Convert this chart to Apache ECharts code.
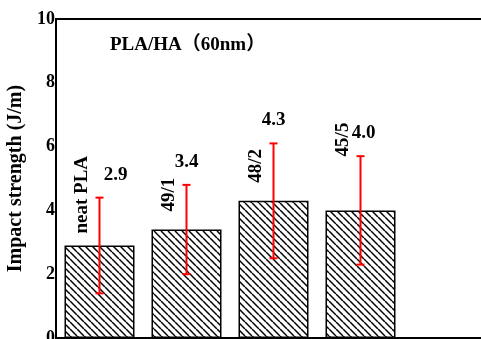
<!DOCTYPE html>
<html>
<head>
<meta charset="UTF-8">
<title>impact</title>
<script src="https://cdn.jsdelivr.net/npm/echarts@6/dist/echarts.min.js"></script>
<style>
  html, body { margin: 0; padding: 0; background: #fff; }
  #chart { width: 481px; height: 339px; }
</style>
</head>
<body>
<div id="chart"></div>
<script>
// data
var names = ['neat PLA', '49/1', '48/2', '45/5'];
var strength = [2.9, 3.4, 4.3, 4.0];
var errors = [1.5, 1.4, 1.8, 1.7];
var yTicks = [0, 2, 4, 6, 8, 10];

// label placement tweaks (px)
var nameLift = [12, 18, 18, 54];
var valueShift = [16, 0, 0, 3];

var serif = '"Liberation Serif", "Times New Roman", serif';

// hatch pattern for the bars
function hatch() {
  var s = 7;
  var c = document.createElement('canvas');
  c.width = s; c.height = s;
  var ctx = c.getContext('2d');
  ctx.fillStyle = '#fff';
  ctx.fillRect(0, 0, s, s);
  ctx.strokeStyle = '#000';
  ctx.lineWidth = 1.5;
  for (var k = -1; k <= 1; k++) {
    ctx.beginPath();
    ctx.moveTo(k * s, 0);
    ctx.lineTo(k * s + s, s);
    ctx.stroke();
  }
  return c;
}

var cats = names.concat(['']);
var errData = [];
for (var i = 0; i < names.length; i++) {
  errData.push([i, strength[i], errors[i]]);
}

var myChart = echarts.init(document.getElementById('chart'));
var option = {
  animation: false,
  title: {
    text: 'PLA/HA（60nm）',
    left: 110, top: 36, padding: 0,
    textStyle: { fontFamily: serif + ', "Noto Sans CJK SC"', fontWeight: 'bold', fontSize: 19, color: '#000' }
  },
  grid: {
    left: 56, top: 19, width: 435, bottom: 1,
    outerBoundsMode: 'none', containLabel: false,
    show: true, borderColor: '#000', borderWidth: 2
  },
  xAxis: {
    type: 'category',
    data: cats,
    axisLine: { lineStyle: { color: '#000', width: 2 } },
    axisTick: { show: false },
    axisLabel: { show: false }
  },
  yAxis: {
    type: 'value',
    min: yTicks[0], max: yTicks[yTicks.length - 1], interval: 2,
    name: 'Impact strength (J/m)',
    nameLocation: 'middle',
    nameGap: 30,
    nameTextStyle: { fontFamily: serif, fontWeight: 'bold', fontSize: 20, color: '#000' },
    axisLine: { show: true, lineStyle: { color: '#000', width: 2 } },
    axisTick: { show: false },
    splitLine: { show: false },
    axisLabel: { margin: 1, fontFamily: serif, fontWeight: 'bold', fontSize: 18, color: '#000' }
  },
  series: [{
    type: 'bar',
    data: strength,
    barWidth: 70,
    itemStyle: {
      color: { image: hatch(), repeat: 'repeat' },
      borderColor: '#000',
      borderWidth: 1.5
    }
  }, {
    type: 'custom',
    data: errData,
    z: 5,
    renderItem: function (params, api) {
      var idx = api.value(0), v = api.value(1), e = api.value(2);
      var top = api.coord([idx, v + e]);
      var bot = api.coord([idx, v - e]);
      var barTop = api.coord([idx, v]);
      var x = top[0], w = 4;
      var red = { stroke: '#ff0000', lineWidth: 2 };
      return {
        type: 'group',
        children: [
          { type: 'line', shape: { x1: x, y1: top[1], x2: x, y2: bot[1] }, style: red },
          { type: 'line', shape: { x1: x - w, y1: top[1], x2: x + w, y2: top[1] }, style: red },
          { type: 'line', shape: { x1: x - w, y1: bot[1], x2: x + w, y2: bot[1] }, style: red },
          {
            type: 'text', x: x + valueShift[idx], y: top[1] - 23,
            style: { text: v.toFixed(1), fill: '#000', align: 'center', verticalAlign: 'middle',
                     font: 'bold 19px ' + serif }
          },
          {
            type: 'text', x: x - 17, y: barTop[1] - nameLift[idx], rotation: Math.PI / 2,
            style: { text: names[idx], fill: '#000', align: 'left', verticalAlign: 'middle',
                     font: 'bold 19px ' + serif }
          }
        ]
      };
    }
  }]
};
myChart.setOption(option);
</script>
</body>
</html>
